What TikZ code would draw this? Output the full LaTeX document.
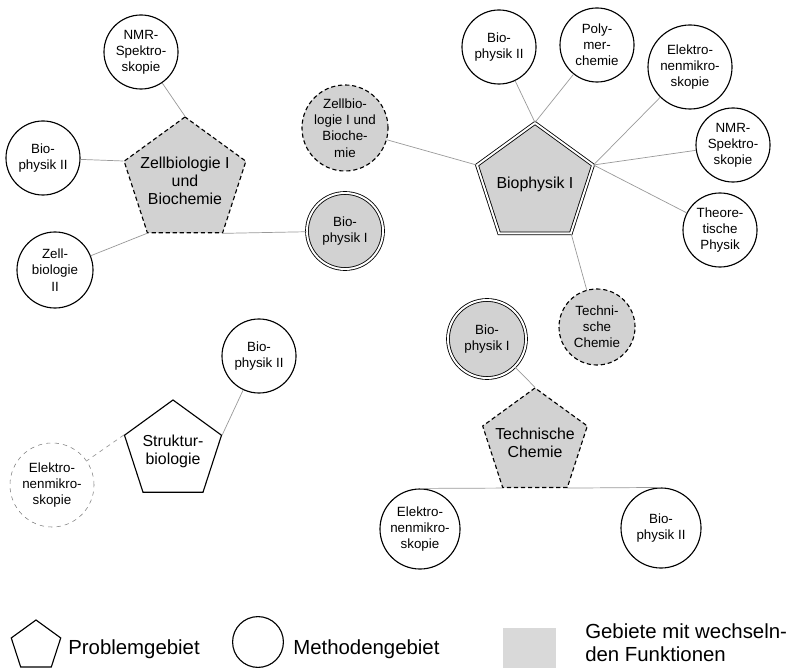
\documentclass[tikz,border=0pt]{standalone}
\usepackage{fontspec}
\setmainfont{Liberation Sans}
\usepackage{tikz}
\usetikzlibrary{shapes.geometric}
\tikzset{
    kreis/.style={
           circle,
           draw=black, thick,
           fill=white,
           inner sep=0pt,
           align=center,
           font=\fontsize{9.5}{11.5}\selectfont},
    kreisgr/.style={
           kreis,
           densely dashed,
           fill=gray!35},
    kreisdp/.style={
           kreis,
           line width=0.6pt,
           double, double distance=1.4pt,
           fill=gray!35},
    kreishell/.style={
           kreis,
           draw=gray, thin, dashed},
    eck/.style={
           regular polygon, regular polygon sides=5,
           draw=black, thick,
           fill=white,
           inner sep=-10pt,
           align=center,
           font=\fontsize{11.3}{12.8}\selectfont},
    eckgr/.style={
           eck,
           dash pattern=on 3pt off 2pt,
           fill=gray!35},
    eckdp/.style={
           eck,
           line width=0.6pt,
           double, double distance=1.4pt,
           fill=gray!35},
    linie/.style={
           gray!80, line width=0.5pt},
    legende/.style={
           inner sep=0pt, anchor=west, align=left,
           font=\fontsize{14.5}{16.5}\selectfont}
    }
\begin{document}
\begin{tikzpicture}[x=0.025cm,y=-0.025cm]
      \useasboundingbox (0,0) rectangle (793,668);
      % Zellbiologie I und Biochemie
      \node[eckgr,minimum size=3.2cm] (0) at (185,181) {Zellbiologie I\\und\\Biochemie};
      \node[kreis,minimum size=1.85cm] (1) at (141,52) {NMR-\\Spektro-\\skopie};
      \node[kreis,minimum size=1.85cm] (2) at (43,158) {Bio-\\physik II};
      \node[kreis,minimum size=1.9cm] (3) at (55,270) {Zell-\\biologie\\II};
      \node[kreisdp,minimum size=1.9cm] (4) at (345,231) {Bio-\\physik I};
      \node[kreisgr,minimum size=2.15cm] (5) at (345,128) {Zellbio-\\logie I und\\Bioche-\\mie};
      % Biophysik I
      \node[eckdp,minimum size=3.05cm] (6) at (535,184) {Biophysik I};
      \node[kreis,minimum size=1.85cm] (7) at (499,47) {Bio-\\physik II};
      \node[kreis,minimum size=1.85cm] (8) at (597,45) {Poly-\\mer-\\chemie};
      \node[kreis,minimum size=2.1cm] (9) at (690,67) {Elektro-\\nenmikro-\\skopie};
      \node[kreis,minimum size=1.85cm] (10) at (733,145) {NMR-\\Spektro-\\skopie};
      \node[kreis,minimum size=1.85cm] (11) at (720,230) {Theore-\\tische\\Physik};
      \node[kreisgr,minimum size=1.9cm] (12) at (597,327) {Techni-\\sche\\Chemie};
      % Technische Chemie
      \node[eckgr,minimum size=2.75cm] (13) at (535,443) {Technische\\Chemie};
      \node[kreisdp,minimum size=1.95cm] (14) at (487,339) {Bio-\\physik I};
      \node[kreis,minimum size=2cm] (15) at (420,529) {Elektro-\\nenmikro-\\skopie};
      \node[kreis,minimum size=2cm] (16) at (661,528) {Bio-\\physik II};
      % Strukturbiologie
      \node[eck,minimum size=2.55cm] (17) at (173,451) {Struktur-\\biologie};
      \node[kreis,minimum size=1.85cm] (18) at (259,356) {Bio-\\physik II};
      \node[kreishell,minimum size=2.1cm] (19) at (52,485) {Elektro-\\nenmikro-\\skopie};
      % Legende
      \node[eck,minimum size=1.3cm] (20) at (36,646) {};
      \node[legende] (21) at (68,649) {Problemgebiet};
      \node[kreis,minimum size=1.27cm] (22) at (258,642) {};
      \node[legende] (23) at (293,649) {Methodengebiet};
      \node[rectangle,fill=gray!30,minimum width=1.325cm,minimum height=1cm] (24) at (529.5,648) {};
      \node[legende] (25) at (585,643) {Gebiete mit wechseln-\\den Funktionen};
      \draw[linie] (1) to (0.corner 1);
      \draw[linie] (2) to (0.corner 2);
      \draw[linie] (3) to (0.corner 3);
      \draw[linie] (0.corner 4) to (4);
      \draw[linie] (5) to (6.corner 2);
      \draw[linie] (7) to (6.corner 1);
      \draw[linie] (8) to (6.corner 1);
      \draw[linie] (9) to (6.corner 5);
      \draw[linie] (10) to (6.corner 5);
      \draw[linie] (11) to (6.corner 5);
      \draw[linie] (6.corner 4) to (12);
      \draw[linie] (14) to (13.corner 1);
      \draw[linie] (15.north) to (13.corner 3);
      \draw[linie] (16.north) to (13.corner 4);
      \draw[linie] (17.corner 5) to (18);
      \draw[linie,dashed] (17.corner 2) to (19);
\end{tikzpicture}
\end{document}
